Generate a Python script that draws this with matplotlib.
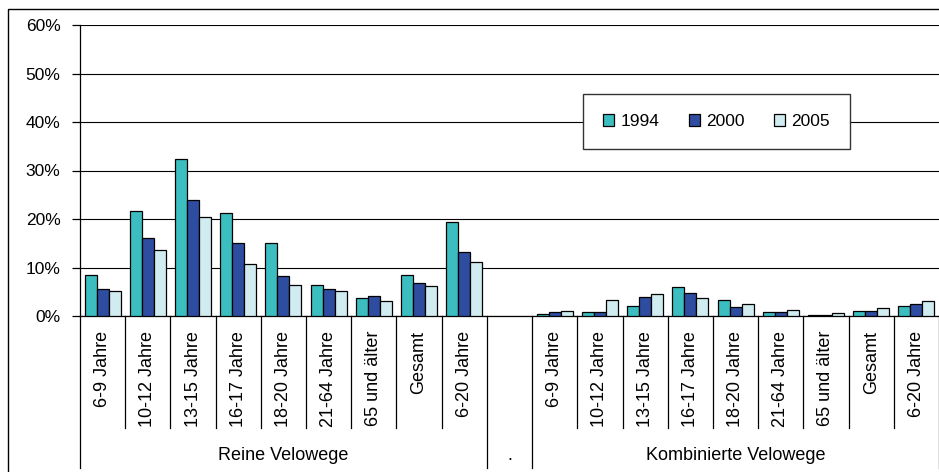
import matplotlib.pyplot as plt

plt.rcParams["font.family"] = ["Liberation Sans", "DejaVu Sans"]

# --- data ---
age_groups = ["6-9 Jahre", "10-12 Jahre", "13-15 Jahre", "16-17 Jahre", "18-20 Jahre",
              "21-64 Jahre", "65 und älter", "Gesamt", "6-20 Jahre"]
groups = ["Reine Velowege", ".", "Kombinierte Velowege"]
years = ["1994", "2000", "2005"]

reine_1994 = [8.4, 21.7, 32.4, 21.2, 15.1, 6.3, 3.7, 8.4, 19.4]
reine_2000 = [5.5, 16.1, 23.9, 15.1, 8.2, 5.5, 4.1, 6.8, 13.2]
reine_2005 = [5.2, 13.6, 20.4, 10.8, 6.3, 5.2, 3.1, 6.1, 11.1]

komb_1994 = [0.5, 0.8, 2.1, 5.9, 3.2, 0.8, 0.2, 1.0, 2.1]
komb_2000 = [0.8, 0.8, 4.0, 4.8, 1.9, 0.8, 0.2, 1.0, 2.5]
komb_2005 = [1.0, 3.2, 4.6, 3.7, 2.4, 1.3, 0.55, 1.6, 3.0]

colors = ["#3CBEC0", "#2E4CA0", "#D0ECF0"]

# full category axis: 9 + empty "." + 9
series = [
    reine_1994 + [0] + komb_1994,
    reine_2000 + [0] + komb_2000,
    reine_2005 + [0] + komb_2005,
]
n_cat = len(series[0])
x = list(range(n_cat))
empty_idx = len(age_groups)

W, H = 939, 472
fig = plt.figure(figsize=(W / 100, H / 100), dpi=100, facecolor="white")

x0 = 80 / W
y_zero = 316
ax = fig.add_axes([x0, 1 - y_zero / H, 1 - x0, (y_zero - 25) / H])

bw = 0.266
for k, (vals, col, lab) in enumerate(zip(series, colors, years)):
    xs = [i + (k - 1) * bw for i in x if i != empty_idx]
    vs = [vals[i] for i in x if i != empty_idx]
    ax.bar(xs, vs, width=bw, color=col, edgecolor="black", linewidth=0.9, label=lab, zorder=3)

ax.set_xlim(-0.5, n_cat - 0.5)
ax.set_ylim(0, 60)
ax.set_yticks(range(0, 61, 10))
ax.set_yticklabels([f"{v}%" for v in range(0, 61, 10)], fontsize=12.5)
ax.tick_params(axis="y", direction="out", length=6, width=0.9, pad=8)
ax.set_xticks([])
ax.yaxis.grid(True, color="black", linewidth=0.8)
ax.set_axisbelow(True)
for s in ["top", "right"]:
    ax.spines[s].set_visible(False)
ax.spines["left"].set_linewidth(0.9)
ax.spines["bottom"].set_linewidth(0.9)

leg = fig.legend(loc="center", bbox_to_anchor=(716.5 / W, 1 - 121.5 / H), ncol=3,
                 fontsize=12.5, frameon=True, fancybox=False, borderpad=1.15,
                 handlelength=0.65, handleheight=0.65, handletextpad=0.35,
                 columnspacing=1.7)
leg.get_frame().set_edgecolor("#333333")
leg.get_frame().set_linewidth(1.0)
leg.get_frame().set_alpha(1)

# lower area for multi-level category axis (pixel units, y down)
low = fig.add_axes([x0, 0, 1 - x0, (H - y_zero) / H])
low.set_xlim(-0.5, n_cat - 0.5)
low.set_ylim(H - y_zero, 0)
low.axis("off")

group_edges = [-0.5, empty_idx - 0.5, empty_idx + 0.5, n_cat - 0.5]
for b in range(n_cat + 1):
    xb = b - 0.5
    y_end = 468 - y_zero if xb in group_edges else 428 - y_zero
    low.plot([xb, xb], [0, y_end], color="black", linewidth=0.9, clip_on=False)

# rotated tick labels clipped at the inner lines
labax = fig.add_axes([x0, (H - 428) / H, 1 - x0, (428 - y_zero) / H])
labax.set_xlim(-0.5, n_cat - 0.5)
labax.set_ylim(428, y_zero)
labax.axis("off")
cat_labels = age_groups + [""] + age_groups
for i, t in enumerate(cat_labels):
    if t:
        labax.text(i, 331, t, rotation=90, ha="center", va="top", fontsize=13, clip_on=True)

centers = [(len(age_groups) - 1) / 2, empty_idx, empty_idx + 1 + (len(age_groups) - 1) / 2]
for c, g in zip(centers, groups):
    low.text(c, 460 - y_zero, g, ha="center", va="baseline", fontsize=13)

# outer chart border (partly cropped)
fig.add_artist(plt.Rectangle((8 / W, -0.1), 2, 1 - 9 / H + 0.1, transform=fig.transFigure,
                             fill=False, edgecolor="black", linewidth=1.0))

fig.savefig("out.png", dpi=100, facecolor="white")
